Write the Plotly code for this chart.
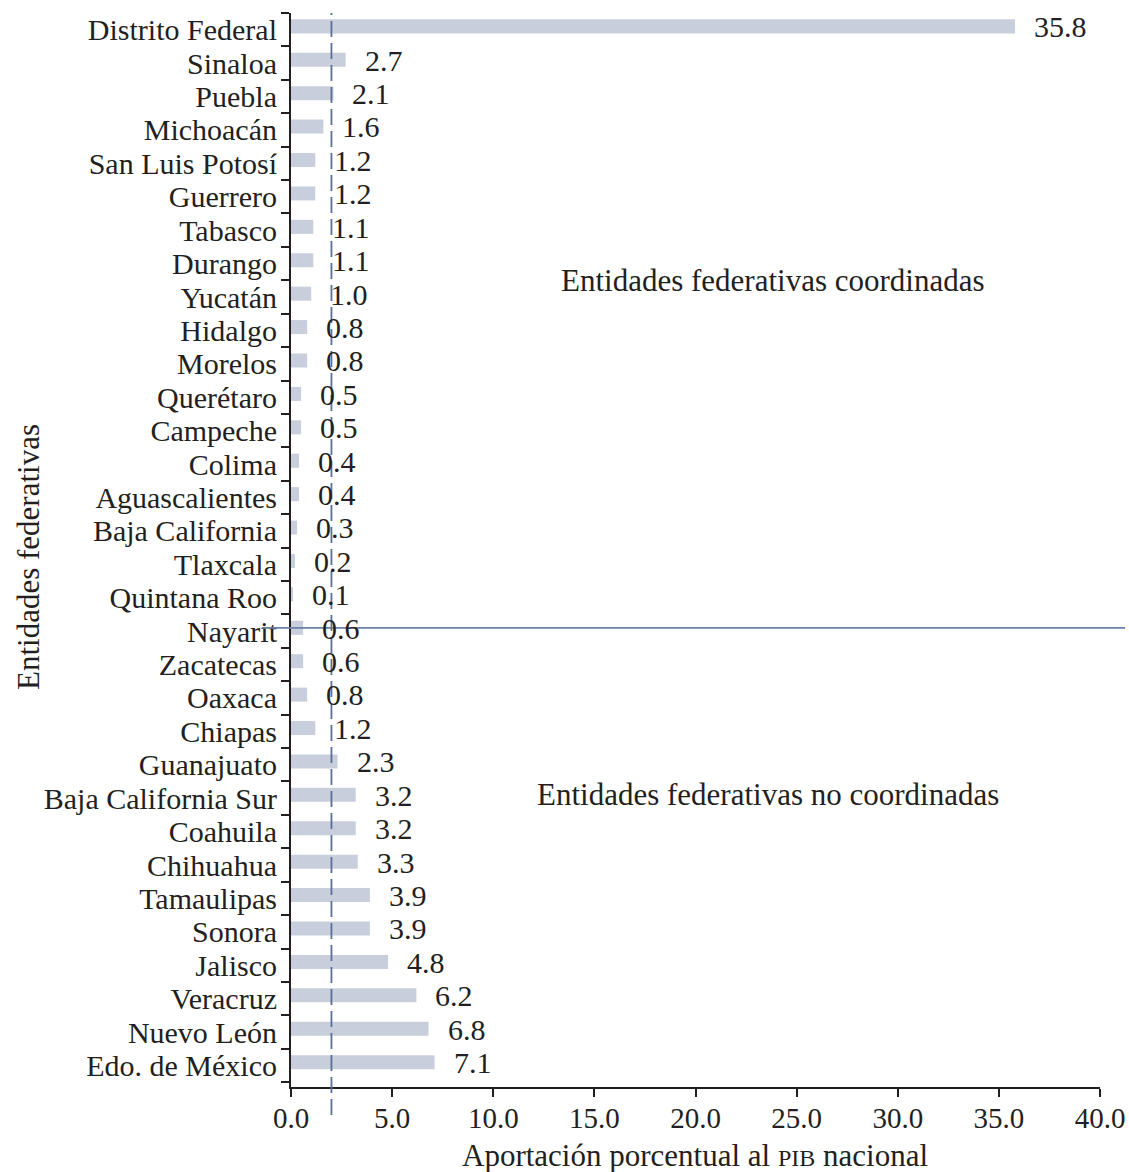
import plotly.graph_objects as go

states = ["Distrito Federal", "Sinaloa", "Puebla", "Michoacán", "San Luis Potosí", "Guerrero",
          "Tabasco", "Durango", "Yucatán", "Hidalgo", "Morelos", "Querétaro", "Campeche",
          "Colima", "Aguascalientes", "Baja California", "Tlaxcala", "Quintana Roo",
          "Nayarit", "Zacatecas", "Oaxaca", "Chiapas", "Guanajuato", "Baja California Sur",
          "Coahuila", "Chihuahua", "Tamaulipas", "Sonora", "Jalisco", "Veracruz",
          "Nuevo León", "Edo. de México"]
values = [35.8, 2.7, 2.1, 1.6, 1.2, 1.2, 1.1, 1.1, 1.0, 0.8, 0.8, 0.5, 0.5, 0.4, 0.4, 0.3,
          0.2, 0.1, 0.6, 0.6, 0.8, 1.2, 2.3, 3.2, 3.2, 3.3, 3.9, 3.9, 4.8, 6.2, 6.8, 7.1]
x_ticks = [0, 5, 10, 15, 20, 25, 30, 35, 40]
mean_line = 2.0
group_split = 17.9

FONT = "Liberation Serif"
TXT = "#231f20"

fig = go.Figure()
fig.add_trace(go.Bar(y=states, x=values, orientation="h", width=0.42, offset=-0.31,
                     marker=dict(color="#c8cedb", line=dict(width=0)),
                     hoverinfo="x+y"))

for s, v in zip(states, values):
    fig.add_annotation(x=v, y=s, text=f"{v:.1f}", showarrow=False, xanchor="left", yanchor="middle",
                       xshift=17, yshift=3, font=dict(family=FONT, size=30, color=TXT))

fig.add_shape(type="line", xref="x", yref="paper", x0=mean_line, x1=mean_line, y0=-0.026, y1=1.0,
              line=dict(color="#5b6f9c", width=1.8, dash="16px,6px"))
fig.add_shape(type="line", xref="paper", yref="y", x0=-0.036, x1=1.031, y0=group_split, y1=group_split,
              line=dict(color="#6b7fa8", width=1.8))

fig.add_annotation(xref="paper", yref="paper", x=(773 - 291) / 809, y=(1087 - 281) / 1074,
                   xanchor="center", yanchor="middle",
                   text="Entidades federativas coordinadas", showarrow=False,
                   font=dict(family=FONT, size=31, color=TXT))
fig.add_annotation(xref="paper", yref="paper", x=(768 - 291) / 809, y=(1087 - 794) / 1074,
                   xanchor="center", yanchor="middle",
                   text="Entidades federativas no coordinadas", showarrow=False,
                   font=dict(family=FONT, size=31, color=TXT))
fig.add_annotation(xref="paper", yref="paper", x=(695 - 291) / 809, y=(1087 - 1155) / 1074,
                   xanchor="center", yanchor="middle",
                   text="Aportación porcentual al <span style='font-size:24px'>PIB</span> nacional",
                   showarrow=False, font=dict(family=FONT, size=31, color=TXT))
fig.add_annotation(xref="paper", yref="paper", x=(28 - 291) / 809, y=(1087 - 557) / 1074,
                   xanchor="center", yanchor="middle",
                   text="Entidades federativas", textangle=-90, showarrow=False,
                   font=dict(family=FONT, size=31, color=TXT))

fig.update_layout(
    width=1129, height=1172,
    margin=dict(l=291, r=29, t=13, b=85),
    paper_bgcolor="white", plot_bgcolor="white",
    showlegend=False,
    font=dict(family=FONT, size=30, color=TXT),
    xaxis=dict(range=[0, 40], tickvals=x_ticks, tickformat=".1f", showgrid=False, zeroline=False,
               automargin=False, ticklabelstandoff=-4,
               showline=True, linecolor=TXT, linewidth=2, ticks="outside", ticklen=8,
               tickwidth=2, tickcolor=TXT, tickfont=dict(family=FONT, size=29, color=TXT)),
    yaxis=dict(type="category", categoryorder="array", categoryarray=states, autorange="reversed",
               tickmode="array", tickvals=states, ticktext=states, automargin=False,
               showgrid=False, zeroline=False, showline=True, linecolor=TXT, linewidth=2,
               ticks="outside", ticklen=8, tickwidth=2, tickcolor=TXT, tickson="boundaries",
               ticklabelstandoff=6,
               tickfont=dict(family=FONT, size=30, color=TXT)),
)

fig.write_html("out.html", config={"displayModeBar": False},
               post_script="document.body.style.margin='0';")
